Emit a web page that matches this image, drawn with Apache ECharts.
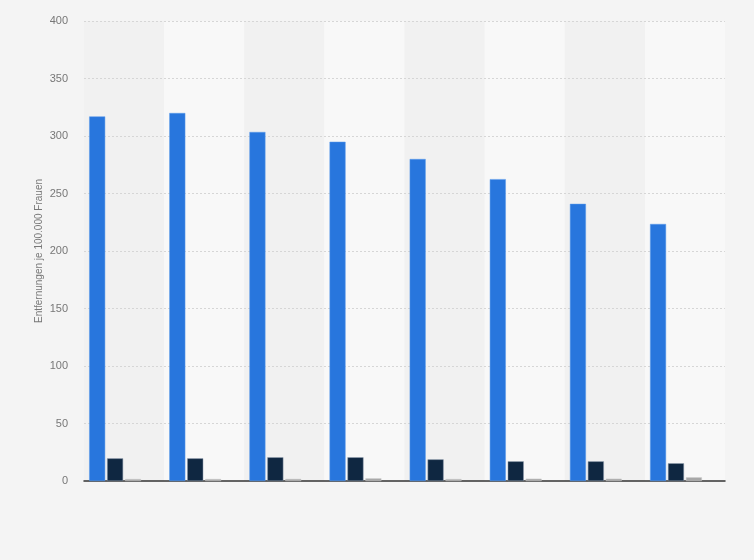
<!DOCTYPE html>
<html>
<head>
<meta charset="utf-8">
<script src="https://cdn.jsdelivr.net/npm/echarts@6/dist/echarts.min.js"></script>
<style>
html,body{margin:0;padding:0;background:#f4f4f4;}
#main{width:754px;height:560px;}
</style>
</head>
<body>
<div id="main"></div>
<script>
// Kategorien (keine Beschriftung im Original sichtbar)
var categories = ['1', '2', '3', '4', '5', '6', '7', '8'];
// Entfernungen je 100.000 Frauen
var serieA = [317, 320, 303.5, 295, 280, 262.5, 241, 223.5];
var serieB = [19.7, 19.7, 20.6, 20.6, 18.8, 17.1, 17.1, 15.4];
var serieC = [1.7, 1.7, 1.8, 2.3, 1.7, 2.0, 2.0, 3.2];
var serieD = [null, null, null, null, null, null, null, null];
var yTicks = [0, 50, 100, 150, 200, 250, 300, 350, 400];

var myChart = echarts.init(document.getElementById('main'));
var option = {
	backgroundColor: '#f4f4f4',
	animation: false,
	grid: {left: 84, right: 29, top: 21, bottom: 79},
	xAxis: {
		type: 'category',
		data: categories,
		z: 0,
		axisLine: {lineStyle: {color: '#333', width: 1.5}},
		axisTick: {show: false},
		axisLabel: {show: false},
		splitArea: {show: true, areaStyle: {color: ['#f1f1f1', '#f8f8f8']}}
	},
	yAxis: {
		type: 'value',
		z: 1,
		min: yTicks[0],
		max: yTicks[yTicks.length - 1],
		interval: 50,
		name: 'Entfernungen je 100.000 Frauen',
		nameLocation: 'middle',
		nameGap: 40,
		nameMoveOverlap: false,
		nameTextStyle: {color: '#777', fontSize: 10, fontFamily: 'Arial, Liberation Sans, sans-serif'},
		axisLine: {show: false},
		axisTick: {show: false},
		axisLabel: {color: '#777', fontSize: 11, margin: 16, fontFamily: 'Arial, Liberation Sans, sans-serif'},
		splitLine: {showMinLine: false, lineStyle: {color: '#d6d6d6', type: [2, 2]}}
	},
	series: [
		{name: 'A', type: 'bar', barWidth: 16, barGap: '12%', data: serieA, itemStyle: {color: '#2876dd', borderColor: '#5a9aea', borderWidth: 0.5}},
		{name: 'B', type: 'bar', barWidth: 16, barGap: '12%', data: serieB, itemStyle: {color: '#0f2741', borderColor: '#8a99aa', borderWidth: 0.5}},
		{name: 'C', type: 'bar', barWidth: 16, barGap: '12%', data: serieC, itemStyle: {color: '#a8a8a8', borderColor: '#c8c8c8', borderWidth: 0.5}},
		{name: 'D', type: 'bar', barWidth: 16, barGap: '12%', data: serieD, itemStyle: {color: '#f9a11b'}}
	]
};
myChart.setOption(option);
</script>
</body>
</html>
